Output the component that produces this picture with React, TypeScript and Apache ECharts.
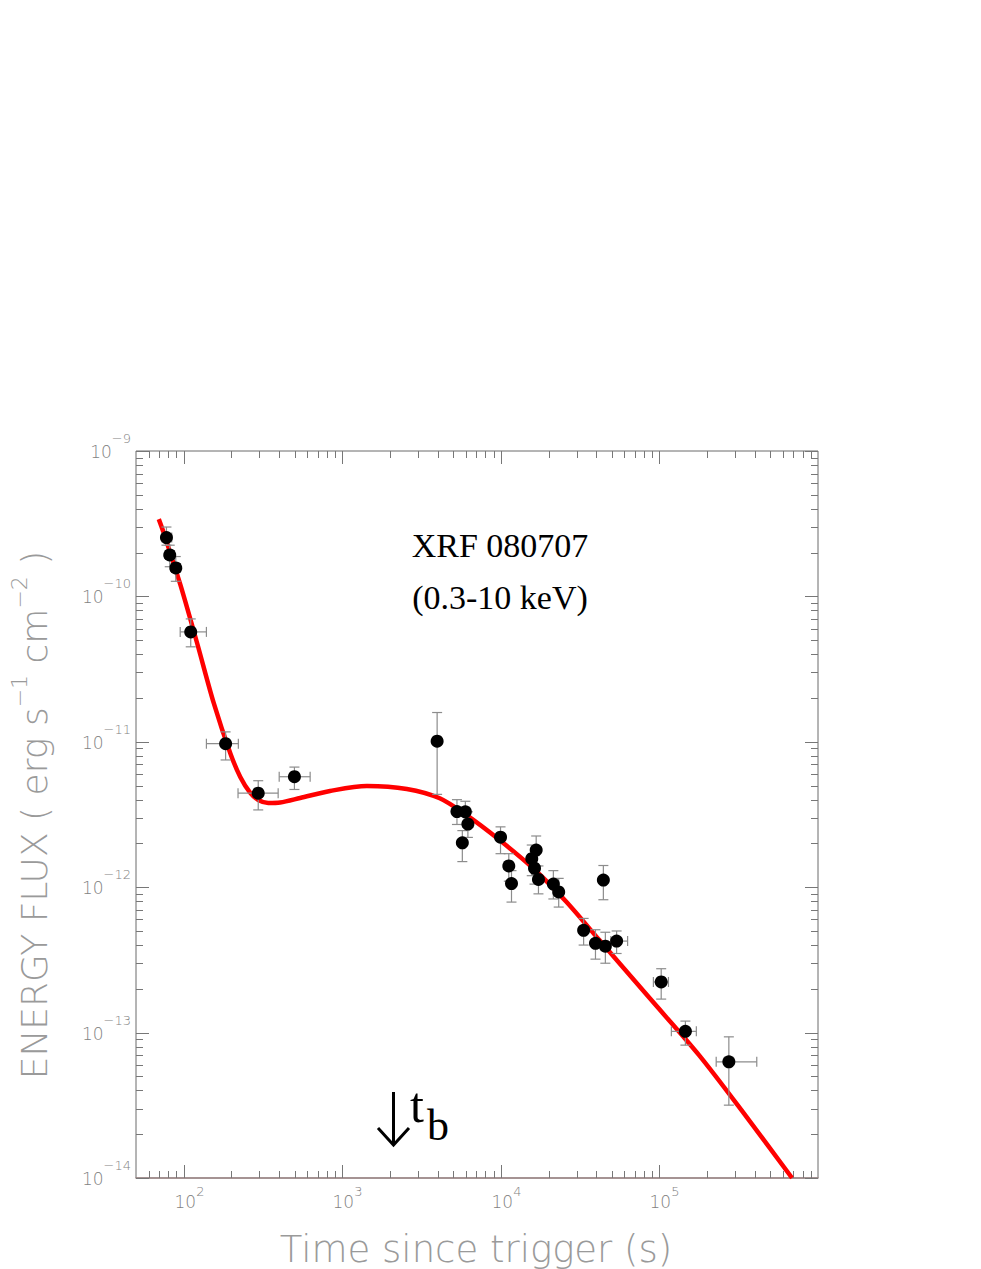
import React, { useEffect, useRef } from "react";
import * as echarts from "echarts";

// ---------- data ----------
const pointTime = [77.8, 81.6, 89.1, 110.7, 183.7, 295, 499, 3963, 5285, 5970, 6195, 5715, 9950, 11220, 11670, 15660, 16700, 16300, 17260, 21430, 23160, 44300, 33260, 39500, 45600, 53700, 102600, 145800, 274000];
const pointFlux = [2.54e-10, 1.93e-10, 1.57e-10, 5.7e-11, 9.7e-12, 4.43e-12, 5.75e-12, 1.01e-11, 3.31e-12, 3.3e-12, 2.72e-12, 2.02e-12, 2.21e-12, 1.4e-12, 1.06e-12, 1.57e-12, 1.8e-12, 1.35e-12, 1.13e-12, 1.05e-12, 9.27e-13, 1.12e-12, 5.05e-13, 4.11e-13, 3.93e-13, 4.26e-13, 2.23e-13, 1.02e-13, 6.3e-14];
const timeLow = [73, 77, 84, 95, 139, 220, 400, 3963, 5100, 5700, 5900, 5500, 9500, 10700, 11100, 15000, 16000, 15500, 16500, 20500, 22000, 44300, 31500, 37500, 43000, 49400, 91600, 118900, 228000];
const timeHigh = [84, 87, 95, 139, 221, 394, 627, 3963, 5500, 6250, 6500, 5950, 10400, 11700, 12200, 16300, 17400, 17100, 18000, 22400, 24300, 44300, 35000, 41500, 48200, 63000, 114000, 170900, 411000];
const fluxLow = [2.25e-10, 1.6e-10, 1.27e-10, 4.5e-11, 7.5e-12, 3.4e-12, 4.7e-12, 4.35e-12, 2.7e-12, 2.7e-12, 2.2e-12, 1.5e-12, 1.7e-12, 1.1e-12, 7.9e-13, 1.2e-12, 1.4e-12, 1.05e-12, 9.0e-13, 8.3e-13, 7.3e-13, 8.2e-13, 4.0e-13, 3.2e-13, 3.0e-13, 3.5e-13, 1.7e-13, 8.2e-14, 3.17e-14];
const fluxHigh = [3.0e-10, 2.25e-10, 1.88e-10, 7.0e-11, 1.17e-11, 5.4e-12, 6.7e-12, 1.59e-11, 4.0e-12, 3.9e-12, 3.3e-12, 2.45e-12, 2.6e-12, 1.7e-12, 1.3e-12, 1.95e-12, 2.25e-12, 1.65e-12, 1.4e-12, 1.3e-12, 1.15e-12, 1.41e-12, 6.1e-13, 5.1e-13, 4.9e-13, 5.0e-13, 2.75e-13, 1.2e-13, 9.35e-14];

const curveTime = [69.6, 74.8, 95.3, 121.4, 154.5, 196.6, 227.3, 262.8, 295, 341, 405.6, 542, 836.7, 1430, 2552, 4114, 6050, 9810, 15900, 25780, 41770, 86130, 177700, 349400, 686000];
const curveFlux = [3.4e-10, 2.73e-10, 1.2e-10, 4.78e-11, 1.85e-11, 8.35e-12, 5.73e-12, 4.45e-12, 3.98e-12, 3.8e-12, 3.83e-12, 4.11e-12, 4.59e-12, 4.97e-12, 4.74e-12, 4.09e-12, 3.14e-12, 2.11e-12, 1.355e-12, 7.97e-13, 4.33e-13, 1.741e-13, 7.0e-14, 2.685e-14, 1.0e-14];

// ---------- axes ----------
const X_MIN = 50;
const X_MAX = 1e6;
const Y_MIN = 1e-14;
const Y_MAX = 1e-9;
const tickMantissas = [2, 3, 4, 5, 6, 7, 8, 9];
const xDecades = [10, 100, 1000, 10000, 100000];
const xMajorValues = [100, 1000, 10000, 100000];
const xMajorExponents = ["2", "3", "4", "5"];
const yDecades = [1e-14, 1e-13, 1e-12, 1e-11, 1e-10];
const yMajorValues = [1e-14, 1e-13, 1e-12, 1e-11, 1e-10, 1e-9];
const yMajorExponents = ["\u221214", "\u221213", "\u221212", "\u221211", "\u221210", "\u22129"];

const LABEL_FONT = '"DejaVu Sans", "Noto Sans", sans-serif';
const SERIF = '"Liberation Serif", "DejaVu Serif", serif';
const TICK_COLOR = "#777777";
const LABEL_COLOR = "#828282";
const TITLE_COLOR = "#9a9a9a";

function buildTickData() {
  const d: number[][] = [];
  xDecades.forEach((dec) =>
    tickMantissas.forEach((m) => {
      const v = m * dec;
      if (v > X_MIN * 1.001 && v < X_MAX * 0.999) d.push([v, Y_MIN, 0, -1]);
    })
  );
  xMajorValues.forEach((v, i) => d.push([v, Y_MIN, 1, i]));
  yDecades.forEach((dec) =>
    tickMantissas.forEach((m) => {
      const v = m * dec;
      if (v > Y_MIN * 1.001 && v < Y_MAX * 0.999) d.push([X_MIN, v, 2, -1]);
    })
  );
  yMajorValues.forEach((v, i) => d.push([X_MIN, v, 3, i]));
  return d;
}

export default function App() {
  const ref = useRef<HTMLDivElement>(null);
  useEffect(() => {
    if (!ref.current) return;
    const chart = echarts.init(ref.current, null, { renderer: "svg" });

    const errData = pointTime.map((t, i) => [t, pointFlux[i], timeLow[i], timeHigh[i], fluxLow[i], fluxHigh[i]]);
    const pts = pointTime.map((t, i) => [t, pointFlux[i]]);
    const curve = curveTime.map((t, i) => [t, curveFlux[i]]);

    const xRich = {
      b: { fontSize: 17, fontFamily: LABEL_FONT, fontWeight: 200, fill: LABEL_COLOR, lineHeight: 34 },
      s: { fontSize: 13, fontFamily: LABEL_FONT, fontWeight: 200, fill: LABEL_COLOR, verticalAlign: "top" },
    };
    const yRich = {
      b: { fontSize: 17, fontFamily: LABEL_FONT, fontWeight: 200, fill: LABEL_COLOR, lineHeight: 40 },
      s: { fontSize: 13, fontFamily: LABEL_FONT, fontWeight: 200, fill: LABEL_COLOR, verticalAlign: "top" },
    };

    chart.setOption({
      animation: false,
      backgroundColor: "#ffffff",
      grid: { left: 136, top: 451, width: 682, height: 727, show: true, borderColor: "#6a6a6a", borderWidth: 1, containLabel: false },
      xAxis: {
        type: "log",
        logBase: 10,
        min: X_MIN,
        max: X_MAX,
        axisLine: { show: true, onZero: false, lineStyle: { color: "#a08888", width: 1.5 } },
        axisTick: { show: false },
        axisLabel: { show: false },
        splitLine: { show: false },
        minorTick: { show: false },
      },
      yAxis: {
        type: "log",
        logBase: 10,
        min: Y_MIN,
        max: Y_MAX,
        axisLine: { show: false },
        axisTick: { show: false },
        axisLabel: { show: false },
        splitLine: { show: false },
      },
      series: [
        {
          type: "custom",
          name: "ticks",
          silent: true,
          clip: false,
          z: 1,
          encode: { x: 0, y: 1 },
          data: buildTickData(),
          renderItem: (params: any, api: any) => {
            const kind = api.value(2);
            const idx = api.value(3);
            const bl = api.coord([X_MIN, Y_MIN]);
            const tr = api.coord([X_MAX, Y_MAX]);
            const major = kind === 1 || kind === 3;
            const len = major ? 13 : 7;
            const st = { stroke: TICK_COLOR, lineWidth: 1 };
            const children: any[] = [];
            if (kind <= 1) {
              const x = Math.round(api.coord([api.value(0), Y_MIN])[0]) + 0.5;
              children.push({ type: "line", shape: { x1: x, y1: bl[1], x2: x, y2: bl[1] - len }, style: st });
              children.push({ type: "line", shape: { x1: x, y1: tr[1], x2: x, y2: tr[1] + len }, style: st });
              if (major) {
                children.push({
                  type: "text",
                  x: x + 5,
                  y: bl[1] + 24,
                  style: { text: `{b|10}{s|${xMajorExponents[idx]}}`, rich: xRich, align: "center", verticalAlign: "middle", fill: LABEL_COLOR },
                });
              }
            } else {
              const y = Math.round(api.coord([X_MIN, api.value(1)])[1]) + 0.5;
              children.push({ type: "line", shape: { x1: bl[0], y1: y, x2: bl[0] + len, y2: y }, style: st });
              children.push({ type: "line", shape: { x1: tr[0], y1: y, x2: tr[0] - len, y2: y }, style: st });
              if (major) {
                children.push({
                  type: "text",
                  x: bl[0] - 5,
                  y: y,
                  style: { text: `{b|10}{s|${yMajorExponents[idx]}}`, rich: yRich, align: "right", verticalAlign: "middle", fill: LABEL_COLOR },
                });
              }
            }
            return { type: "group", children };
          },
        },
        {
          type: "line",
          name: "model",
          data: curve,
          smooth: 0.3,
          showSymbol: false,
          symbol: "none",
          z: 2,
          lineStyle: { color: "#ff0000", width: 4.5 },
        },
        {
          type: "custom",
          name: "errors",
          silent: true,
          z: 3,
          encode: { x: 0, y: 1 },
          data: errData,
          renderItem: (params: any, api: any) => {
            const t = api.value(0);
            const f = api.value(1);
            const lo = api.coord([api.value(2), f]);
            const hi = api.coord([api.value(3), f]);
            const bot = api.coord([t, api.value(4)]);
            const top = api.coord([t, api.value(5)]);
            const cap = 5;
            const st = { stroke: "#8c8c8c", lineWidth: 1.2 };
            const ch: any[] = [];
            ch.push({ type: "line", shape: { x1: bot[0], y1: bot[1], x2: top[0], y2: top[1] }, style: st });
            ch.push({ type: "line", shape: { x1: bot[0] - cap, y1: bot[1], x2: bot[0] + cap, y2: bot[1] }, style: st });
            ch.push({ type: "line", shape: { x1: top[0] - cap, y1: top[1], x2: top[0] + cap, y2: top[1] }, style: st });
            if (hi[0] - lo[0] > 2) {
              ch.push({ type: "line", shape: { x1: lo[0], y1: lo[1], x2: hi[0], y2: hi[1] }, style: st });
              ch.push({ type: "line", shape: { x1: lo[0], y1: lo[1] - cap, x2: lo[0], y2: lo[1] + cap }, style: st });
              ch.push({ type: "line", shape: { x1: hi[0], y1: hi[1] - cap, x2: hi[0], y2: hi[1] + cap }, style: st });
            }
            return { type: "group", children: ch };
          },
        },
        {
          type: "scatter",
          name: "data",
          data: pts,
          symbol: "circle",
          symbolSize: 13,
          z: 4,
          itemStyle: { color: "#000000", opacity: 1 },
        },
      ],
      graphic: [
        {
          type: "text",
          x: 500,
          y: 545,
          style: { text: "XRF 080707", fontSize: 34, fontFamily: SERIF, fill: "#000", align: "center", verticalAlign: "middle" },
        },
        {
          type: "text",
          x: 500,
          y: 597,
          style: { text: "(0.3-10 keV)", fontSize: 34, fontFamily: SERIF, fill: "#000", align: "center", verticalAlign: "middle" },
        },
        {
          type: "line",
          shape: { x1: 393.5, y1: 1092, x2: 393.5, y2: 1144 },
          style: { stroke: "#000", lineWidth: 3 },
        },
        {
          type: "polyline",
          shape: { points: [[378, 1128], [393.5, 1145], [409, 1128]] },
          style: { stroke: "#000", lineWidth: 3, fill: "none" },
        },
        {
          type: "text",
          x: 410,
          y: 1105,
          style: { text: "t", fontSize: 50, fontFamily: SERIF, fill: "#000", align: "left", verticalAlign: "middle" },
        },
        {
          type: "text",
          x: 427,
          y: 1125,
          style: { text: "b", fontSize: 44, fontFamily: SERIF, fill: "#000", align: "left", verticalAlign: "middle" },
        },
        {
          type: "text",
          x: 476,
          y: 1249,
          style: { text: "Time since trigger (s)", fontSize: 37, fontFamily: LABEL_FONT, fontWeight: 200, fill: TITLE_COLOR, align: "center", verticalAlign: "middle" },
        },
        {
          type: "text",
          x: 34,
          y: 815,
          rotation: Math.PI / 2,
          style: {
            text: "ENERGY FLUX ( erg s{s|\u22121} cm{s|\u22122} )",
            fontSize: 36,
            lineHeight: 52,
            fontFamily: LABEL_FONT,
            fontWeight: 200,
            fill: TITLE_COLOR,
            align: "center",
            verticalAlign: "middle",
            rich: {
              s: { fontSize: 22, fontFamily: LABEL_FONT, fontWeight: 200, fill: TITLE_COLOR, verticalAlign: "top" },
            },
          },
        },
      ],
    });
    return () => chart.dispose();
  }, []);
  return <div ref={ref} style={{ position: "absolute", left: 0, top: 0, width: 981, height: 1269 }} />;
}
